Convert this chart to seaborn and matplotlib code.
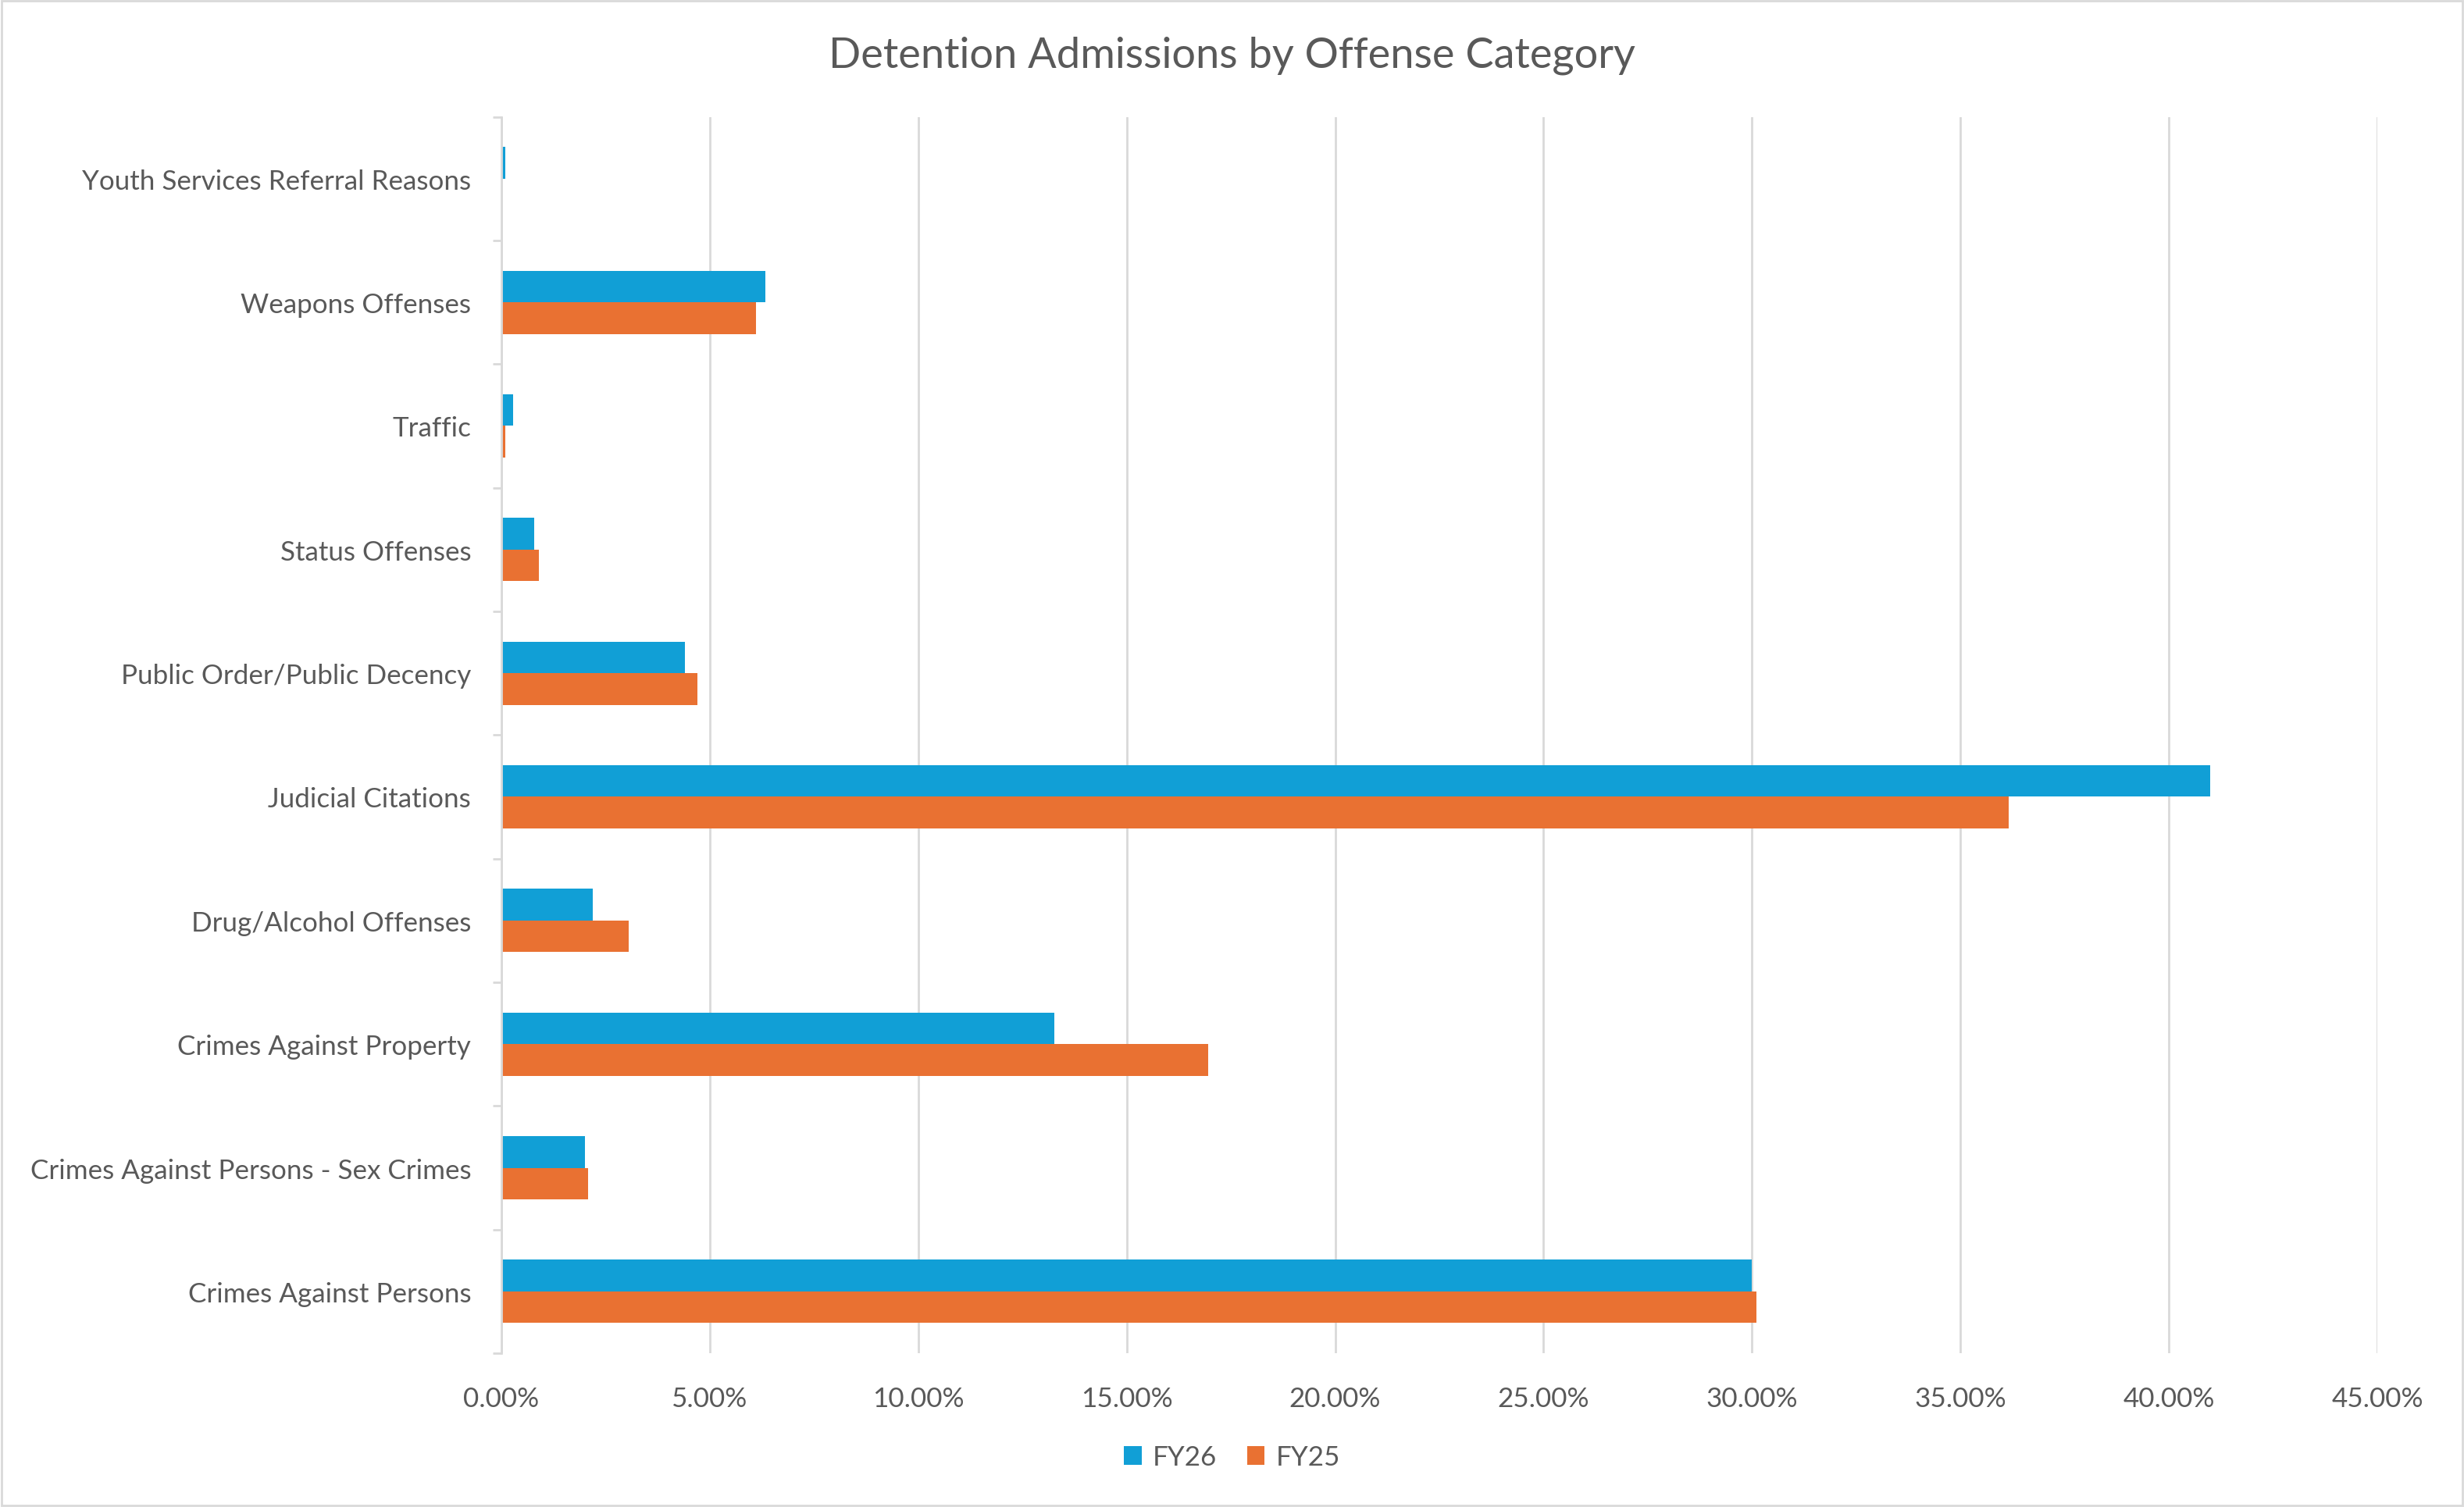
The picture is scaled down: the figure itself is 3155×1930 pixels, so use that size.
import matplotlib
matplotlib.use("Agg")
import matplotlib.pyplot as plt
import matplotlib.ticker as mticker
from matplotlib.patches import Rectangle, Patch
import numpy as np
import pandas as pd
import seaborn as sns

categories = [
    "Youth Services Referral Reasons",
    "Weapons Offenses",
    "Traffic",
    "Status Offenses",
    "Public Order/Public Decency",
    "Judicial Citations",
    "Drug/Alcohol Offenses",
    "Crimes Against Property",
    "Crimes Against Persons - Sex Crimes",
    "Crimes Against Persons",
]
fy26 = [0.10, 6.33, 0.28, 0.79, 4.41, 41.00, 2.19, 13.26, 2.00, 29.99]
fy25 = [0.00, 6.10, 0.10, 0.90, 4.71, 36.15, 3.05, 16.96, 2.07, 30.10]
series = ["FY26", "FY25"]
x_ticks = [0, 5, 10, 15, 20, 25, 30, 35, 40, 45]

colors = {"FY26": "#119FD6", "FY25": "#E97132"}
text_color = "#595959"
grid_color = "#D9D9D9"

df = pd.DataFrame({
    "Category": categories * 2,
    "Series": ["FY26"] * len(categories) + ["FY25"] * len(categories),
    "Share": [v / 100 for v in fy26 + fy25],
})

sns.set_theme(style="white")
plt.rcParams["font.family"] = ["Lato", "DejaVu Sans"]

fig = plt.figure(figsize=(15.775, 9.655), dpi=200)
ax = fig.add_axes([0.2035, 0.1020, 0.7613, 0.8200])

sns.barplot(
    data=df, y="Category", x="Share", hue="Series",
    order=categories, hue_order=series, palette=colors,
    width=0.51, orient="h", ax=ax, legend=False, saturation=1,
)
for p in ax.patches:
    p.set_linewidth(0)

ax.set_xlim(0, 0.45)
ax.set_ylim(len(categories) - 0.5, -0.5)
ax.set_xticks([t / 100 for t in x_ticks])
ax.xaxis.set_major_formatter(mticker.PercentFormatter(xmax=1, decimals=2))
ax.grid(axis="x", color=grid_color, linewidth=1.0)
ax.set_axisbelow(True)

for s in ["top", "right", "bottom"]:
    ax.spines[s].set_visible(False)
ax.spines["left"].set_color(grid_color)
ax.spines["left"].set_linewidth(1.0)

ax.set_yticks(np.arange(-0.5, len(categories), 1.0), minor=True)
ax.tick_params(axis="y", which="minor", left=True, length=4, width=1.0, color=grid_color)
ax.tick_params(axis="y", which="major", left=False, pad=8, labelsize=12.6, labelcolor=text_color)
ax.tick_params(axis="x", which="major", bottom=False, pad=9, labelsize=12.6, labelcolor=text_color)
ax.set_xlabel("")
ax.set_ylabel("")

fig.suptitle("Detention Admissions by Offense Category", x=0.5, y=0.963,
             fontsize=19.5, color=text_color, va="center")

handles = [Patch(facecolor=colors[s], edgecolor="none", label=s) for s in series]
fig.legend(handles=handles, loc="center", bbox_to_anchor=(0.5, 0.033), ncol=2,
           frameon=False, fontsize=12.6, labelcolor=text_color,
           handlelength=0.65, handleheight=0.65, handletextpad=0.4, columnspacing=1.1)

fig.patches.append(Rectangle((0.0005, 0.0008), 0.999, 0.998, transform=fig.transFigure,
                             fill=False, edgecolor=grid_color, linewidth=1.0))

fig.savefig("out.png", dpi=200, facecolor="white")
